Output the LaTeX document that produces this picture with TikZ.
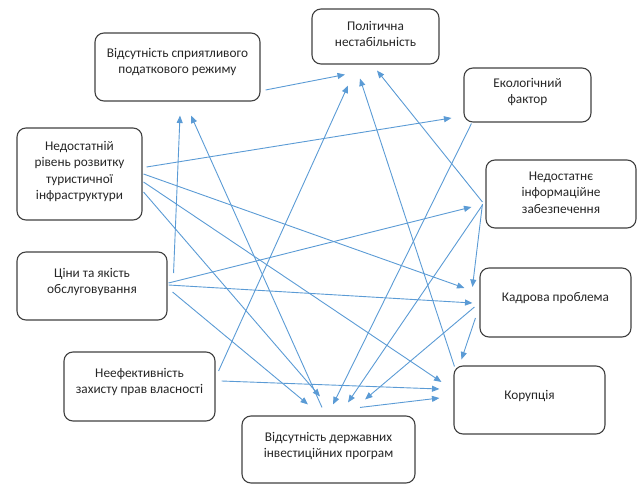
\documentclass[tikz,border=0pt]{standalone}
\usepackage{fontspec}
\setmainfont{Carlito}
\usetikzlibrary{arrows.meta}
\definecolor{linkblue}{HTML}{5B9BD5}
\definecolor{boxgray}{HTML}{404040}
\newcommand{\boxtext}[4]{\begin{minipage}[c][#2pt][t]{#1pt}\centering\vspace*{#3pt}\strut #4\end{minipage}}
\tikzset{
	factor/.style={draw=boxgray, line width=1.1pt, rounded corners=9pt, inner sep=0pt, text=black!85, font=\fontsize{13.3}{16.5}\selectfont},
	link/.style={draw=linkblue, line width=0.9pt, -{Triangle[length=7.5pt,width=6pt]}}
}
\begin{document}
\begin{tikzpicture}[x=1pt, y=-1pt]
		\useasboundingbox (0,0) rectangle (638,485);
		\node[factor] (b1) at (177.5,67) {\boxtext{165}{68}{12.5}{Відсутність сприятливого\\податкового режиму}};
		\node[factor] (b2) at (375.5,36.5) {\boxtext{127}{55}{9.5}{Політична\\нестабільність}};
		\node[factor] (b3) at (527.5,95) {\boxtext{127}{54}{7.5}{Екологічний\\фактор}};
		\node[factor] (b4) at (79.5,174) {\boxtext{125}{92}{10.5}{Недостатній\\рівень розвитку\\туристичної\\інфраструктури}};
		\node[factor] (b5) at (561,194) {\boxtext{150}{68}{8.5}{Недостатнє\\інформаційне\\забезпечення}};
		\node[factor] (b6) at (92,286) {\boxtext{150}{68}{13.5}{Ціни та якість\\обслуговування}};
		\node[factor] (b7) at (555.5,302.5) {\boxtext{151}{69}{21.5}{Кадрова проблема}};
		\node[factor] (b8) at (139.5,386.5) {\boxtext{151}{69}{13.5}{Неефективність\\захисту прав власності}};
		\node[factor] (b9) at (529.5,400) {\boxtext{151}{68}{21.5}{Корупція}};
		\node[factor] (b10) at (328.5,449.5) {\boxtext{173}{67}{13.5}{Відсутність державних\\інвестиційних програм}};

		\draw[link] ([shift={(5,23)}]b1.east) -- ([shift={(-30.5,10)}]b2.south);
		\draw[link] ([shift={(3,-15.5)}]b8.east) -- ([shift={(-27.5,21)}]b2.south);
		\draw[link] ([shift={(1,1)}]b9.north west) -- ([shift={(-15.5,14)}]b2.south);
		\draw[link] ([shift={(-3,8)}]b5.west) -- ([shift={(1.5,6)}]b2.south);
		\draw[link] ([shift={(6,-13)}]b6.east) -- ([shift={(2.5,14)}]b1.south);
		\draw[link] ([shift={(-6.5,-8)}]b10.north) -- ([shift={(13.5,14)}]b1.south);
		\draw[link] ([shift={(4,-7)}]b4.east) -- ([shift={(-12,23)}]b3.west);
		\draw[link] ([shift={(1,-3)}]b6.east) -- ([shift={(-14,13)}]b5.west);
		\draw[link] ([shift={(1,0)}]b4.east) -- ([shift={(-15,-14.5)}]b7.west);
		\draw[link] ([shift={(-3,10)}]b5.west) -- ([shift={(-7,-15.5)}]b7.west);
		\draw[link] ([shift={(1,-1)}]b6.east) -- ([shift={(-7,0.5)}]b7.west);
		\draw[link] ([shift={(1,8)}]b4.east) -- ([shift={(-12,-18)}]b9.west);
		\draw[link] ([shift={(6,-5.5)}]b8.east) -- ([shift={(-14,-11)}]b9.west);
		\draw[link] ([shift={(31.5,-8)}]b10.north) -- ([shift={(-14,-2)}]b9.west);
		\draw[link] ([shift={(-4,15.5)}]b7.west) -- ([shift={(8,-6)}]b9.north west);
		\draw[link] ([shift={(5,6)}]b6.east) -- ([shift={(-20.5,-11)}]b10.north);
		\draw[link] ([shift={(1,18)}]b4.east) -- ([shift={(-8.5,-19)}]b10.north);
		\draw[link] ([shift={(8,1)}]b3.south west) -- ([shift={(4.5,-11)}]b10.north);
		\draw[link] ([shift={(-3,11)}]b5.west) -- ([shift={(19.5,-13)}]b10.north);
		\draw[link] ([shift={(-5,4.5)}]b7.west) -- ([shift={(36.5,-16)}]b10.north);
	\end{tikzpicture}
\end{document}
